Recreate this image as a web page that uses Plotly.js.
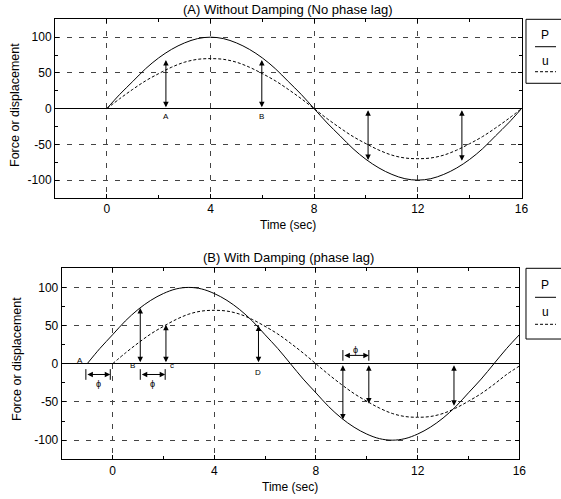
<!DOCTYPE html>
<html><head><meta charset="utf-8">
<script src="https://cdn.plot.ly/plotly-3.0.1.min.js"></script>
<style>html,body{margin:0;padding:0;background:#fff}#c{width:561px;height:499px}</style>
</head><body><div id="c"></div>
<script>
// ---- data ----
const timeA = [0,0.5,1,1.5,2,2.5,3,3.5,4,4.5,5,5.5,6,6.5,7,7.5,8,8.5,9,9.5,10,10.5,11,11.5,12,12.5,13,13.5,14,14.5,15,15.5,16];
const forceA = [0,20,38,56,71,83,92,98,100,98,92,83,71,56,38,20,0,-20,-38,-56,-71,-83,-92,-98,-100,-98,-92,-83,-71,-56,-38,-20,0];
const dispA  = [0,14,27,39,49,58,65,69,70,69,65,58,49,39,27,14,0,-14,-27,-39,-49,-58,-65,-69,-70,-69,-65,-58,-49,-39,-27,-14,0];

const timeBP = [-1,-0.5,0,0.5,1,1.5,2,2.5,3,3.5,4,4.5,5,5.5,6,6.5,7,7.5,8,8.5,9,9.5,10,10.5,11,11.5,12,12.5,13,13.5,14,14.5,15,15.5,16];
const forceB = [0,20,38,56,71,83,92,98,100,98,92,83,71,56,38,20,0,-20,-38,-56,-71,-83,-92,-98,-100,-98,-92,-83,-71,-56,-38,-20,0,20,38];
const timeBU = [0,0.5,1,1.5,2,2.5,3,3.5,4,4.5,5,5.5,6,6.5,7,7.5,8,8.5,9,9.5,10,10.5,11,11.5,12,12.5,13,13.5,14,14.5,15,15.5,16];
const dispB  = [0,14,27,39,49,58,65,69,70,69,65,58,49,39,27,14,0,-14,-27,-39,-49,-58,-65,-69,-70,-69,-65,-58,-49,-39,-27,-14,-3];

const arrowAx = [2.28, 5.98, 10.08, 13.7];
const arrowAy = [68, 68, -72, -73];
const labelA  = ['A', 'B'];
const labelAx = [2.28, 5.98];
const labelAy = [-11, -11];

const arrowBx = [1.09, 2.1, 5.74, 9.06, 10.08, 13.43];
const arrowBy = [73, 51, 50, -73, -52, -55];
const labelB  = ['A', 'B', 'c', 'D'];
const labelBx = [-1.3, 0.78, 2.32, 5.74];
const labelBy = [4, -2, -2, -11];

const phiX0 = [-1.05, 1.09, 9.06];
const phiX1 = [-0.09, 2.07, 10.08];
const phiY  = [-14, -14, 11];
const phiLabelY = [-27, -27, 18];

const xTicks = [0, 4, 8, 12, 16];
const xTickText = ['0', '4', '8', '12', '16'];
const yTicks = [-100, -50, 0, 50, 100];
const yTickText = ['-100', '-50', '0', '50', '100'];

// ---- layout ----
const FONT = 'Liberation Sans, Arial, sans-serif';
const GRID = '#444';
function xax(dom, anchor){
  return {domain: dom, anchor: anchor, range: [-2, 16], tickvals: xTicks, ticktext: xTickText, ticks: 'inside', ticklen: 4,
    showline: true, mirror: 'ticks', linecolor: '#000', linewidth: 1, tickcolor: '#000',
    showgrid: true, gridcolor: GRID, gridwidth: 1, griddash: '5px,7px', zeroline: false,
    minor: {dtick: 2, tick0: 0, ticks: 'inside', ticklen: 3, tickcolor: '#000', showgrid: false},
    tickfont: {size: 12, color: '#000'}, fixedrange: true};
}
function yax(dom, anchor){
  return {domain: dom, anchor: anchor, range: [-125, 125], tickvals: yTicks, ticktext: yTickText, ticks: 'inside', ticklen: 4,
    showline: true, mirror: 'ticks', linecolor: '#000', linewidth: 1, tickcolor: '#000',
    showgrid: true, gridcolor: GRID, gridwidth: 1, griddash: '5px,7px',
    zeroline: true, zerolinecolor: '#000', zerolinewidth: 1.3,
    minor: {dtick: 25, tick0: 0, ticks: 'inside', ticklen: 3, tickcolor: '#000', showgrid: false},
    tickfont: {size: 12, color: '#000'}, fixedrange: true};
}

const traces = [
  {x: timeA, y: forceA, xaxis: 'x', yaxis: 'y', mode: 'lines', line: {color: '#000', width: 1, shape: 'spline'}, showlegend: false},
  {x: timeA, y: dispA, xaxis: 'x', yaxis: 'y', mode: 'lines', line: {color: '#000', width: 1, dash: '3px,2px', shape: 'spline'}, showlegend: false},
  {x: timeBP, y: forceB, xaxis: 'x2', yaxis: 'y2', mode: 'lines', line: {color: '#000', width: 1, shape: 'spline'}, showlegend: false},
  {x: timeBU, y: dispB, xaxis: 'x2', yaxis: 'y2', mode: 'lines', line: {color: '#000', width: 1, dash: '3px,2px', shape: 'spline'}, showlegend: false}
];

const ann = [];
const shapes = [];
function arrow(xr, yr, x, y0, y1){
  ann.push({xref: xr, yref: yr, axref: xr, ayref: yr, x: x, y: y1, ax: x, ay: y0, text: '', showarrow: true,
    arrowhead: 2, arrowside: 'end+start', arrowsize: 1.1, arrowwidth: 1, arrowcolor: '#000', standoff: 0, startstandoff: 0});
}
function hArrow(xr, yr, x0, x1, y){
  ann.push({xref: xr, yref: yr, axref: xr, ayref: yr, x: x1, y: y, ax: x0, ay: y, text: '', showarrow: true,
    arrowhead: 2, arrowside: 'end+start', arrowsize: 1.1, arrowwidth: 1, arrowcolor: '#000', standoff: 0, startstandoff: 0});
}
function txt(xr, yr, x, y, t, size, extra){
  ann.push(Object.assign({xref: xr, yref: yr, x: x, y: y, text: t, showarrow: false, xanchor: 'center', yanchor: 'middle',
    font: {family: FONT, size: size, color: '#000'}}, extra || {}));
}
arrowAx.forEach((x, i) => arrow('x', 'y', x, 0, arrowAy[i]));
labelA.forEach((t, i) => txt('x', 'y', labelAx[i], labelAy[i], t, 8));
arrowBx.forEach((x, i) => arrow('x2', 'y2', x, 0, arrowBy[i]));
labelB.forEach((t, i) => txt('x2', 'y2', labelBx[i], labelBy[i], t, 8));
phiX0.forEach((x0, i) => {
  const x1 = phiX1[i], y = phiY[i];
  hArrow('x2', 'y2', x0, x1, y);
  shapes.push({type: 'line', xref: 'x2', yref: 'y2', x0: x0, x1: x0, y0: y - 7, y1: y + 7, line: {color: '#000', width: 1}});
  shapes.push({type: 'line', xref: 'x2', yref: 'y2', x0: x1, x1: x1, y0: y - 7, y1: y + 7, line: {color: '#000', width: 1}});
  txt('x2', 'y2', (x0 + x1) / 2, phiLabelY[i], 'ϕ', 9);
});

// titles
txt('paper', 'paper', 0.5125, 0.980, '(A) Without Damping (No phase lag)', 13);
txt('paper', 'paper', 0.515, 0.4844, '(B) With Damping (phase lag)', 13);
txt('paper', 'paper', 0.5125, 0.5491, 'Time (sec)', 12);
txt('paper', 'paper', 0.517, 0.0246, 'Time (sec)', 12);
txt('paper', 'paper', 0.0267, 0.7896, 'Force or displacement', 12.5, {textangle: -90});
txt('paper', 'paper', 0.0303, 0.2806, 'Force or displacement', 12.5, {textangle: -90});

// legend boxes
function legendBox(y0, y1, pY, lineY, uY, dashY){
  shapes.push({type: 'rect', xref: 'paper', yref: 'paper', x0: 0.9376, x1: 1.05, y0: y0, y1: y1, line: {color: '#000', width: 1}});
  shapes.push({type: 'line', xref: 'paper', yref: 'paper', x0: 0.9537, x1: 0.9911, y0: lineY, y1: lineY, line: {color: '#000', width: 1}});
  shapes.push({type: 'line', xref: 'paper', yref: 'paper', x0: 0.9537, x1: 0.9911, y0: dashY, y1: dashY, line: {color: '#000', width: 1, dash: '3px,2px'}});
  txt('paper', 'paper', 0.9715, pY, 'P', 12);
  txt('paper', 'paper', 0.9715, uY, 'u', 12);
}
legendBox(0.8331, 0.9613, 0.9299, 0.9064, 0.8778, 0.8563);
legendBox(0.3206, 0.4623, 0.4289, 0.4042, 0.3754, 0.3501);

const layout = {
  width: 561, height: 499, margin: {l: 0, r: 0, t: 0, b: 0},
  paper_bgcolor: '#fff', plot_bgcolor: '#fff', showlegend: false,
  font: {family: FONT, size: 12, color: '#000'},
  xaxis: xax([0.0980, 0.9296], 'y'), yaxis: yax([0.6032, 0.9613], 'x'),
  xaxis2: xax([0.1100, 0.9257], 'y2'), yaxis2: yax([0.0796, 0.4623], 'x2'),
  annotations: ann, shapes: shapes
};
Plotly.newPlot('c', traces, layout, {displayModeBar: false, staticPlot: true});
</script></body></html>
